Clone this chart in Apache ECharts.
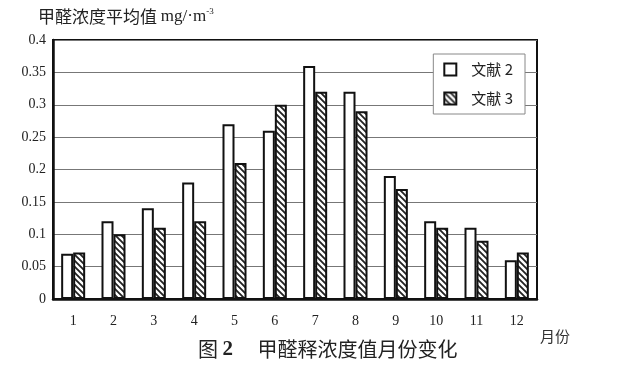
<!DOCTYPE html>
<html><head><meta charset="utf-8">
<script src="https://cdn.jsdelivr.net/npm/echarts@6/dist/echarts.min.js"></script>
<style>html,body{margin:0;padding:0;background:#fff}#c{width:622px;height:368px}</style>
</head><body><div id="c"></div>
<script>
const months = ['1','2','3','4','5','6','7','8','9','10','11','12'];
const lit2 = [0.07,0.12,0.14,0.18,0.27,0.26,0.36,0.32,0.19,0.12,0.11,0.06];
const lit3 = [0.072,0.10,0.11,0.12,0.21,0.30,0.32,0.29,0.17,0.11,0.09,0.072];
const yTicks = ['0','0.05','0.1','0.15','0.2','0.25','0.3','0.35','0.4'];
const seriesNames = ['文献 2','文献 3'];

function hatch(){
  const c = document.createElement('canvas');
  c.width = 6; c.height = 6;
  const g = c.getContext('2d');
  g.fillStyle = '#fff'; g.fillRect(0,0,6,6);
  g.strokeStyle = '#222'; g.lineWidth = 1.8;
  g.beginPath();
  g.moveTo(-1,-1); g.lineTo(7,7);
  g.moveTo(-4,2); g.lineTo(4,10);
  g.moveTo(2,-4); g.lineTo(10,4);
  g.stroke();
  return c;
}
const serif = '"Liberation Serif","DejaVu Serif",serif';
const cjk = '"Noto Sans CJK SC",sans-serif';
const chart = echarts.init(document.getElementById('c'), null, {renderer:'canvas'});
chart.setOption({
  animation:false,
  backgroundColor:'#fff',
  grid:{left:53,right:85,top:40,bottom:69,show:true,borderColor:'#111',borderWidth:2,backgroundColor:'transparent'},
  legend:{
    data:seriesNames, orient:'vertical', right:97, top:54, icon:'rect',
    itemWidth:12, itemHeight:12, itemGap:14,
    padding:[8,12,8,10],
    backgroundColor:'#fff', borderColor:'#888', borderWidth:1,
    textStyle:{fontFamily:cjk+','+serif, fontSize:15, color:'#222', padding:[0,0,0,10]}
  },
  xAxis:{
    type:'category', data:months,
    axisLine:{lineStyle:{color:'#111',width:2.5}},
    axisTick:{show:false},
    axisLabel:{margin:15,fontFamily:serif,fontSize:14,color:'#222'}
  },
  yAxis:{
    type:'value', min:0, max:0.4, interval:0.05,
    axisLine:{show:true,lineStyle:{color:'#111',width:2.5}},
    axisTick:{show:false},
    axisLabel:{margin:7,fontFamily:serif,fontSize:14,color:'#222',formatter:(v,i)=>yTicks[i]},
    splitLine:{lineStyle:{color:'#777',width:1}}
  },
  series:[
    {name:seriesNames[0],type:'bar',data:lit2,barWidth:12,barGap:'0%',
     itemStyle:{color:'#fff',borderColor:'#111',borderWidth:2}},
    {name:seriesNames[1],type:'bar',data:lit3,barWidth:12,
     itemStyle:{color:{image:hatch(),repeat:'repeat'},borderColor:'#111',borderWidth:2}}
  ],
  graphic:[
    {type:'text',left:38,top:7,style:{
      text:'{a|甲醛浓度平均值 }{b|mg/·m}{s|-3}',
      rich:{a:{fontFamily:cjk,fontSize:17,fill:'#222'},
            b:{fontFamily:serif,fontSize:17,fill:'#222'},
            s:{fontFamily:serif,fontSize:9,fill:'#222',verticalAlign:'top',padding:[0,0,10,0]}}
    }},
    {type:'text',left:540,top:329,style:{text:'月份',fontFamily:cjk,fontSize:15,fill:'#333'}},
    {type:'text',left:198,top:339,style:{
      text:'{a|图 }{b|2}{a|　 甲醛释浓度值月份变化}',
      rich:{a:{fontFamily:cjk,fontSize:20,fill:'#222'},b:{fontFamily:serif,fontSize:21,fontWeight:'bold',fill:'#222'}}
    }}
  ]
});
</script></body></html>
